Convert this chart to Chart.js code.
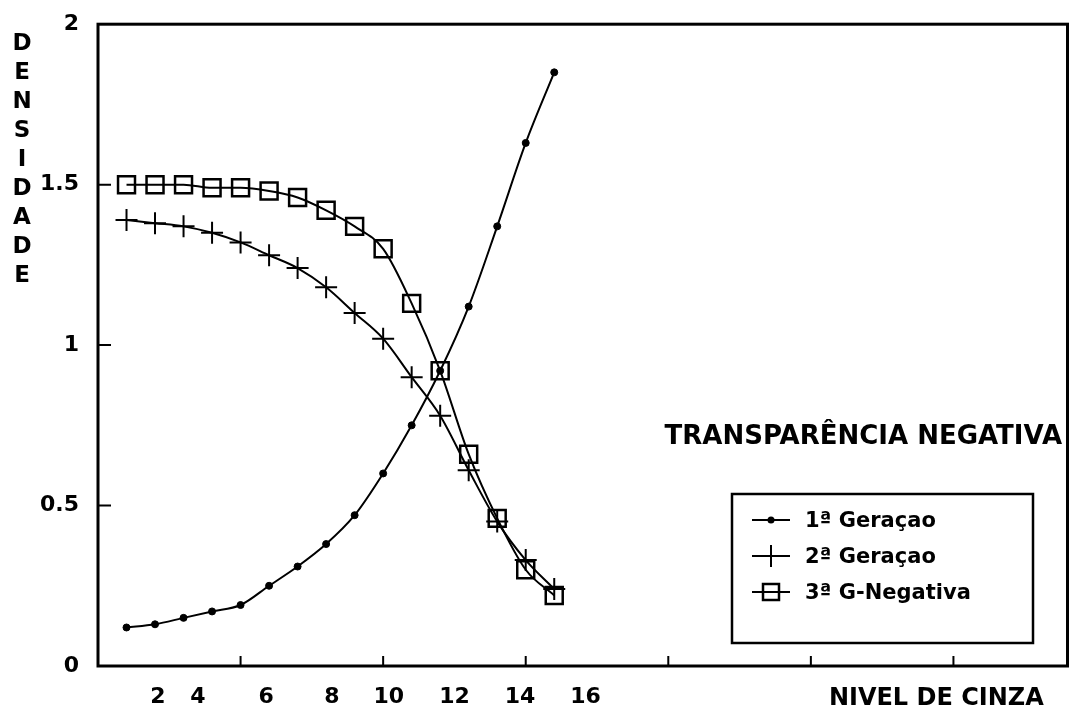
<!DOCTYPE html>
<html>
<head>
<meta charset="utf-8">
<title>Densidade x Nivel de cinza</title>
<script src="https://cdn.jsdelivr.net/npm/chart.js@4/dist/chart.umd.min.js"></script>
<style>
  html, body { margin: 0; padding: 0; background: #fff; }
  canvas { display: block; }
</style>
</head>
<body>
<canvas id="myChart" width="1082" height="705"></canvas>
<script>
// values
const grayLevels = [1, 2, 3, 4, 5, 6, 7, 8, 9, 10, 11, 12, 13, 14, 15, 16];
const gen1 = [0.12, 0.13, 0.15, 0.17, 0.19, 0.25, 0.31, 0.38, 0.47, 0.60, 0.75, 0.92, 1.12, 1.37, 1.63, 1.85];
const gen2 = [1.39, 1.38, 1.37, 1.35, 1.32, 1.28, 1.24, 1.18, 1.10, 1.02, 0.90, 0.78, 0.61, 0.45, 0.33, 0.24];
const gen3neg = [1.50, 1.50, 1.50, 1.49, 1.49, 1.48, 1.46, 1.42, 1.37, 1.30, 1.13, 0.92, 0.66, 0.46, 0.30, 0.22];
const seriesNames = ["1ª Geraçao", "2ª Geraçao", "3ª G-Negativa"];
const yTickValues = [0, 0.5, 1, 1.5, 2];
const xTickLabels = ["2", "4", "6", "8", "10", "12", "14", "16", "NIVEL DE CINZA"];

// where the x labels sit (in axis units) and the little tick marks on the frame
const xLabelAt = [2.1, 3.5, 5.9, 8.2, 10.2, 12.5, 14.8, 17.1, 29.4];
const xMarkAt = [5, 10, 15, 20, 25, 30];

const FONT = "'DejaVu Sans', 'Liberation Sans', sans-serif";

function toPoints(values) {
  return grayLevels.map(function (x, i) {
    return { x: x, y: values[i] };
  });
}

const decor = {
  id: "decor",
  afterDatasetsDraw: function (chart) {
    const ctx = chart.ctx;
    const a = chart.chartArea;
    const xs = chart.scales.x;
    const ys = chart.scales.y;

    ctx.save();
    ctx.strokeStyle = "#000";
    ctx.fillStyle = "#000";

    // frame
    ctx.lineWidth = 3;
    ctx.strokeRect(a.left, a.top, a.right - a.left, a.bottom - a.top);

    // inward tick marks
    ctx.lineWidth = 2;
    ctx.beginPath();
    xMarkAt.forEach(function (v) {
      const px = xs.getPixelForValue(v);
      ctx.moveTo(px, a.bottom);
      ctx.lineTo(px, a.bottom - 10);
    });
    yTickValues.slice(1, -1).forEach(function (v) {
      const py = ys.getPixelForValue(v);
      ctx.moveTo(a.left, py);
      ctx.lineTo(a.left + 13, py);
    });
    ctx.stroke();

    // vertical axis title, one letter per line
    ctx.font = "bold 23px " + FONT;
    ctx.textAlign = "center";
    ctx.textBaseline = "middle";
    "DENSIDADE".split("").forEach(function (ch, i) {
      ctx.fillText(ch, 22, 44 + i * 29);
    });

    // caption
    ctx.font = "bold 26px " + FONT;
    ctx.textAlign = "right";
    ctx.fillText("TRANSPARÊNCIA NEGATIVA", 1062, 437);

    // legend box
    const box = { left: 732, top: 494, right: 1033, bottom: 643 };
    ctx.lineWidth = 2.5;
    ctx.strokeRect(box.left, box.top, box.right - box.left, box.bottom - box.top);

    ctx.font = "bold 21px " + FONT;
    ctx.textAlign = "left";
    chart.data.datasets.forEach(function (ds, i) {
      const y = 520 + i * 36;
      const x0 = 752, x1 = 790, cx = (x0 + x1) / 2;
      ctx.lineWidth = 2;
      ctx.beginPath();
      ctx.moveTo(x0, y);
      ctx.lineTo(x1, y);
      ctx.stroke();
      if (ds.pointStyle === "circle") {
        ctx.beginPath();
        ctx.arc(cx, y, 3.5, 0, Math.PI * 2);
        ctx.fill();
      } else if (ds.pointStyle === "cross") {
        ctx.beginPath();
        ctx.moveTo(cx, y - 11);
        ctx.lineTo(cx, y + 11);
        ctx.stroke();
      } else {
        ctx.lineWidth = 2.5;
        ctx.strokeRect(cx - 8, y - 8, 16, 16);
      }
      ctx.fillText(ds.label, 805, y + 2);
    });
    ctx.restore();
  }
};

const ctx = document.getElementById("myChart").getContext("2d");

const myChart = new Chart(ctx, {
  type: "line",
  data: {
    datasets: [
      {
        label: seriesNames[0],
        data: toPoints(gen1),
        borderColor: "#000",
        backgroundColor: "#000",
        borderWidth: 2,
        pointStyle: "circle",
        pointRadius: 3.5,
        pointBorderWidth: 1,
        cubicInterpolationMode: "monotone",
      },
      {
        label: seriesNames[1],
        data: toPoints(gen2),
        borderColor: "#000",
        backgroundColor: "#000",
        borderWidth: 2,
        pointStyle: "cross",
        pointRadius: 11,
        pointBorderWidth: 2,
        cubicInterpolationMode: "monotone",
      },
      {
        label: seriesNames[2],
        data: toPoints(gen3neg),
        borderColor: "#000",
        backgroundColor: "rgba(0,0,0,0)",
        borderWidth: 2,
        pointStyle: "rect",
        pointRadius: 12,
        pointBorderWidth: 2.5,
        cubicInterpolationMode: "monotone",
      },
    ],
  },
  options: {
    responsive: false,
    animation: false,
    events: [],
    layout: {
      padding: { top: 20, right: 5, left: 0, bottom: 0 },
    },
    scales: {
      x: {
        type: "linear",
        min: 0,
        max: 34,
        grid: { display: false },
        border: { display: false },
        afterBuildTicks: function (scale) {
          scale.ticks = xLabelAt.map(function (v) {
            return { value: v };
          });
        },
        afterFit: function (scale) {
          scale.height = 39;
        },
        ticks: {
          autoSkip: false,
          maxRotation: 0,
          padding: 10,
          color: "#000",
          font: function (c) {
            const last = c.index === xTickLabels.length - 1;
            return { family: FONT, size: last ? 24 : 22, weight: "bold" };
          },
          callback: function (value, index) {
            return xTickLabels[index];
          },
        },
      },
      y: {
        min: 0,
        max: 2,
        grid: { display: false },
        border: { display: false },
        afterBuildTicks: function (scale) {
          scale.ticks = yTickValues.map(function (v) {
            return { value: v };
          });
        },
        afterFit: function (scale) {
          scale.width = 98;
        },
        ticks: {
          padding: 11,
          color: "#000",
          font: { family: FONT, size: 22, weight: "bold" },
          callback: function (value) {
            return String(value);
          },
        },
      },
    },
    plugins: {
      legend: { display: false },
      tooltip: { enabled: false },
    },
  },
  plugins: [decor],
});
</script>
</body>
</html>
